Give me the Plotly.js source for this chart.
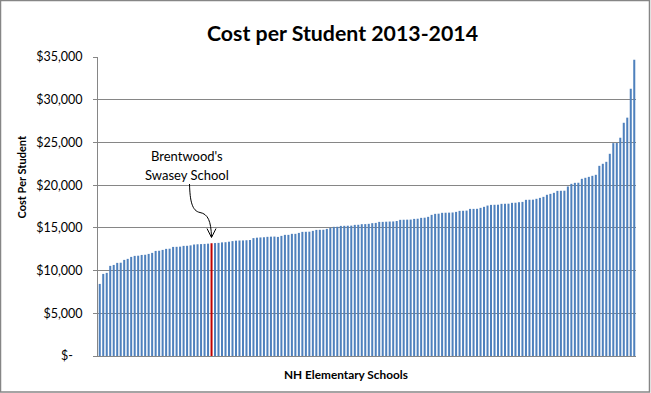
<!DOCTYPE html>
<html>
<head>
<meta charset="utf-8">
<script src="https://cdn.plot.ly/plotly-3.0.1.min.js"></script>
<style>html,body{margin:0;padding:0;background:#fff;}#chart{width:651px;height:393px;}</style>
</head>
<body>
<div id="chart"></div>
<script>
// ---- data ----
const costPerStudent = [
  8440, 9610, 9730, 10550, 10660, 10900, 10920, 11250, 11370, 11600,
  11720, 11740, 11830, 11850, 11950, 12070, 12300, 12320, 12420, 12540,
  12560, 12770, 12780, 12800, 12890, 12900, 12950, 13050, 13080, 13100,
  13120, 13150, 13200, 13220, 13240, 13300, 13320, 13380, 13450, 13500,
  13520, 13530, 13550, 13580, 13800, 13850, 13880, 13900, 13950, 13970,
  13980,
  13940, 14060, 14180, 14180, 14300, 14300, 14410, 14530, 14540, 14550,
  14650, 14760, 14770, 14780, 14880, 15000, 15120, 15130, 15230, 15240,
  15250, 15260, 15350, 15360, 15430, 15440, 15470, 15550, 15580, 15700,
  15700, 15720, 15740, 15750, 15800, 15940, 15950, 15960, 15970, 16050,
  16070, 16170, 16190, 16290, 16520, 16640, 16660, 16760, 16770, 16780,
  16800, 16870, 16990, 17000, 17020,
  17220, 17220, 17230, 17340, 17460, 17610, 17690, 17700, 17710, 17810,
  17820, 17830, 17930, 17940, 18000, 18040, 18280, 18290, 18300, 18400,
  18510, 18630, 18870, 18980, 19100, 19330, 19340, 19350, 19840, 20150,
  20270, 20280, 20740, 20860, 20970, 21090, 21210, 22260, 22500, 22730,
  23670, 24920, 24930, 25550, 27300, 27900, 31290, 34690
];
const highlightIndex = 32; // Brentwood's Swasey School
const tickValues = [0, 5000, 10000, 15000, 20000, 25000, 30000, 35000];
const tickLabels = ["$-\u00a0\u00a0\u00a0", "$5,000", "$10,000", "$15,000", "$20,000", "$25,000", "$30,000", "$35,000"];
const chartTitle = "Cost per Student 2013-2014";
const xTitle = "NH Elementary Schools";
const yTitle = "Cost Per Student";
const annotationLines = ["Brentwood's", "Swasey School"];

// ---- build ----
const schools = costPerStudent.map((v, i) => "School " + (i + 1));
const colors = costPerStudent.map((v, i) => i === highlightIndex ? "#C00000" : "#4F81BD");

const W = 651, H = 393;
const M = {l: 98, r: 15, t: 57, b: 37};
const PW = W - M.l - M.r, PH = H - M.t - M.b;
const px = x => (x - M.l) / PW;
const py = y => (H - M.b - y) / PH;
const GRID = "#868686";
const FONT = "Lato, 'Open Sans', sans-serif";

const arrowPath =
  "M " + px(189.5) + " " + py(184) +
  " C " + px(190) + " " + py(201) + ", " + px(192) + " " + py(211) + ", " + px(200) + " " + py(212.5) +
  " C " + px(208) + " " + py(214) + ", " + px(211) + " " + py(221) + ", " + px(211.5) + " " + py(237);
const headPath =
  "M " + px(207) + " " + py(228.5) + " L " + px(211.5) + " " + py(237.5) + " L " + px(216) + " " + py(228.5);

const layout = {
  width: W, height: H,
  margin: M,
  paper_bgcolor: "#ffffff", plot_bgcolor: "#ffffff",
  showlegend: false,
  bargap: 0.42,
  font: {family: FONT, color: "#000"},
  title: {
    text: chartTitle,
    font: {family: FONT, size: 21.3, weight: "bold", color: "#000"},
    xref: "container", x: 342.5 / W, xanchor: "center",
    yref: "container", y: 1 - 33.5 / H, yanchor: "middle"
  },
  xaxis: {
    type: "category",
    showticklabels: false, ticks: "",
    showgrid: false, zeroline: false,
    showline: true, linecolor: GRID, linewidth: 1,
    range: [-0.5, costPerStudent.length - 0.5],
    fixedrange: true
  },
  yaxis: {
    range: [0, 35000],
    tickvals: tickValues, ticktext: tickLabels,
    ticks: "outside", ticklen: 4, tickcolor: GRID, tickwidth: 1,
    ticklabelstandoff: 8,
    tickfont: {family: FONT, size: 12.5, color: "#000"},
    showgrid: true, gridcolor: GRID, gridwidth: 1,
    zeroline: false,
    showline: true, linecolor: GRID, linewidth: 1,
    fixedrange: true
  },
  annotations: [
    {xref: "paper", yref: "paper", x: px(345.5), y: py(374.5), text: "<b>" + xTitle + "</b>",
     showarrow: false, xanchor: "center", yanchor: "middle", font: {family: FONT, size: 11.8, color: "#000"}},
    {xref: "paper", yref: "paper", x: px(20.5), y: py(177), text: "<b>" + yTitle + "</b>", textangle: -90,
     showarrow: false, xanchor: "center", yanchor: "middle", font: {family: FONT, size: 11, color: "#000"}},
    {xref: "paper", yref: "paper", x: px(187), y: py(156), text: annotationLines[0],
     showarrow: false, xanchor: "center", yanchor: "middle", font: {family: FONT, size: 13, color: "#000"}},
    {xref: "paper", yref: "paper", x: px(187), y: py(174.5), text: annotationLines[1],
     showarrow: false, xanchor: "center", yanchor: "middle", font: {family: FONT, size: 13, color: "#000"}}
  ],
  shapes: [
    {type: "rect", xref: "paper", yref: "paper", x0: px(0.5), x1: px(649.5), y0: py(0.5), y1: py(392),
     line: {color: GRID, width: 1.5}, fillcolor: "rgba(0,0,0,0)", layer: "above"},
    {type: "path", xref: "paper", yref: "paper", path: arrowPath, line: {color: "#000", width: 1}},
    {type: "path", xref: "paper", yref: "paper", path: headPath, line: {color: "#000", width: 1}}
  ]
};

const trace = {
  type: "bar",
  x: schools,
  y: costPerStudent,
  marker: {color: colors, line: {width: 0}},
  hoverinfo: "y"
};

Plotly.newPlot("chart", [trace], layout, {displayModeBar: false, staticPlot: true});
</script>
</body>
</html>
